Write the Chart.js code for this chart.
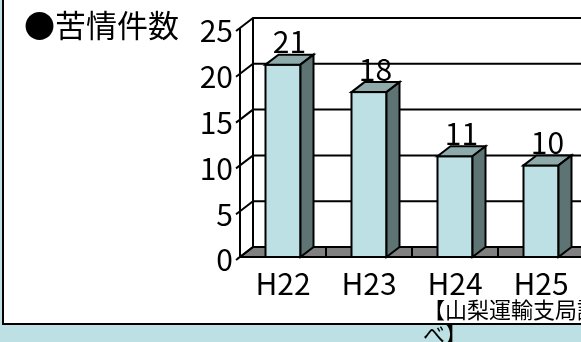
<!DOCTYPE html>
<html lang="ja">
<head>
<meta charset="UTF-8">
<title>苦情件数</title>
<script src="https://cdn.jsdelivr.net/npm/chart.js"></script>
<style>
  html, body { margin: 0; padding: 0; }
  body { width: 581px; height: 342px; overflow: hidden; background: #bce0e3; position: relative; }
  /* white frame, only its left and bottom edges are on screen */
  .panel { position: absolute; left: 2px; top: -10px; width: 700px; height: 335px; box-sizing: border-box; border: 2px solid #000; background: #fff; }
  .chartBox { position: absolute; left: 0; top: 0; width: 600px; height: 342px; }
  .titulo { position: absolute; left: 24px; top: 8px; font: 31px/1 "Noto Sans CJK JP", sans-serif; color: #000; white-space: nowrap; }
  .fonte { position: absolute; left: 423px; top: 296px; width: 182px; font: 22px/24px "Noto Sans CJK JP", sans-serif; color: #000; }
</style>
</head>
<body>
  <div class="panel"></div>
  <div class="chartBox"><canvas id="grafico" width="600" height="342"></canvas></div>
  <div class="titulo">●苦情件数</div>
  <div class="fonte">【山梨運輸支局調べ】</div>

<script>
  // dados
  const years = ['H22', 'H23', 'H24', 'H25'];
  const complaints = [21, 18, 11, 10];
  const yMax = 25;
  const yStep = 5;

  const numFont = { family: "'Noto Sans CJK JP', sans-serif", size: 30 };

  // profundidade do efeito 3D
  const DX = 13, DY = -10;

  const box3d = {
    id: 'box3d',
    beforeDatasetsDraw(chart) {
      const { ctx, chartArea: a, scales } = chart;
      const y = scales.y, x = scales.x;
      const right = chart.width;
      ctx.save();
      ctx.lineWidth = 2;
      ctx.strokeStyle = '#000';

      // chão
      ctx.fillStyle = '#808080';
      ctx.beginPath();
      ctx.moveTo(a.left, a.bottom);
      ctx.lineTo(a.left + DX, a.bottom + DY);
      ctx.lineTo(right + DX, a.bottom + DY);
      ctx.lineTo(right, a.bottom);
      ctx.closePath();
      ctx.fill();
      ctx.stroke();

      // divisões entre categorias no chão
      ctx.beginPath();
      for (let i = 1; i < years.length; i++) {
        const bx = Math.round((x.getPixelForValue(i - 1) + x.getPixelForValue(i)) / 2);
        ctx.moveTo(bx, a.bottom);
        ctx.lineTo(bx, a.bottom + DY);
      }
      ctx.stroke();

      // paredes: lateral e fundo
      ctx.beginPath();
      ctx.moveTo(a.left, a.top);
      ctx.lineTo(a.left, a.bottom);
      ctx.moveTo(a.left + DX, a.top + DY);
      ctx.lineTo(a.left + DX, a.bottom + DY);
      for (let v = 0; v <= yMax; v += yStep) {
        const py = y.getPixelForValue(v);
        ctx.moveTo(a.left - 4, py + 3);
        ctx.lineTo(a.left, py);
        ctx.lineTo(a.left + DX, py + DY);
        if (v > 0) ctx.lineTo(right + DX, py + DY);
      }
      ctx.stroke();
      ctx.restore();
    },
    afterDatasetsDraw(chart) {
      const { ctx } = chart;
      const meta = chart.getDatasetMeta(0);
      ctx.save();
      ctx.lineWidth = 2;
      ctx.strokeStyle = '#000';
      ctx.lineJoin = 'miter';
      meta.data.forEach((el, i) => {
        const { x, y, base, width } = el.getProps(['x', 'y', 'base', 'width'], true);
        const xl = x - width / 2, xr = x + width / 2;

        ctx.strokeRect(xl, y, width, base - y);

        // topo
        ctx.fillStyle = '#8eaaab';
        ctx.beginPath();
        ctx.moveTo(xl, y);
        ctx.lineTo(xl + DX, y + DY);
        ctx.lineTo(xr + DX, y + DY);
        ctx.lineTo(xr, y);
        ctx.closePath();
        ctx.fill();
        ctx.stroke();

        // lateral
        ctx.fillStyle = '#5e7474';
        ctx.beginPath();
        ctx.moveTo(xr, y);
        ctx.lineTo(xr + DX, y + DY);
        ctx.lineTo(xr + DX, base + DY);
        ctx.lineTo(xr, base);
        ctx.closePath();
        ctx.fill();
        ctx.stroke();

        // rótulo do valor
        ctx.fillStyle = '#000';
        ctx.font = numFont.size + 'px ' + numFont.family;
        ctx.textAlign = 'center';
        ctx.textBaseline = 'middle';
        ctx.fillText(String(complaints[i]), x + DX / 2, y + DY - 13);
      });
      ctx.restore();
    }
  };

  new Chart(document.getElementById('grafico'), {
    type: 'bar',
    data: {
      labels: years,
      datasets: [{
        label: '苦情件数',
        data: complaints,
        backgroundColor: '#bce0e3',
        borderWidth: 0,
        barPercentage: 0.407,
        categoryPercentage: 1
      }]
    },
    options: {
      responsive: false,
      animation: false,
      devicePixelRatio: 1,
      layout: { padding: { top: 28, right: 16, left: 0, bottom: 0 } },
      plugins: { legend: { display: false }, tooltip: { enabled: false } },
      scales: {
        x: {
          grid: { display: false, drawTicks: false },
          border: { display: false },
          ticks: { font: numFont, color: '#000', padding: 9, maxRotation: 0 },
          afterFit(s) { s.height = 85; }
        },
        y: {
          min: 0,
          max: yMax,
          grid: { display: false, drawTicks: false },
          border: { display: false },
          ticks: { stepSize: yStep, font: numFont, color: '#000', padding: 7, labelOffset: 3 },
          afterFit(s) { s.width = 240; }
        }
      }
    },
    plugins: [box3d]
  });
</script>
</body>
</html>
